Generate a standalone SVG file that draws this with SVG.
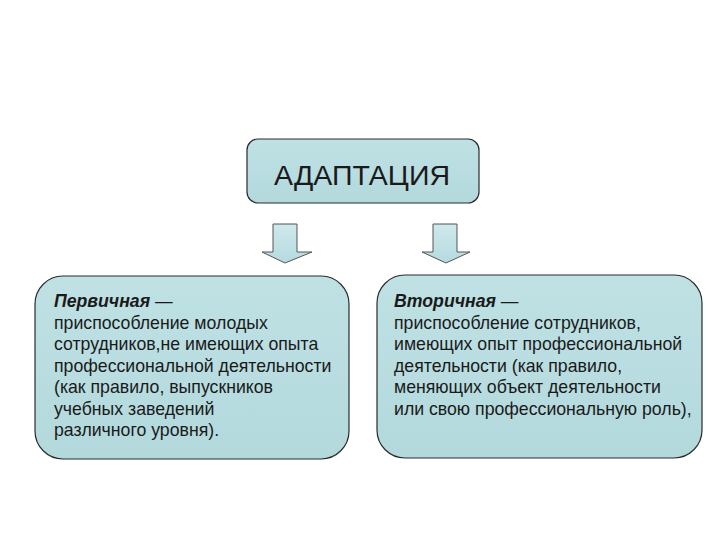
<svg xmlns="http://www.w3.org/2000/svg" width="720" height="540" viewBox="0 0 720 540">
<defs>
<linearGradient id="g" x1="0" y1="0" x2="0" y2="1">
<stop offset="0" stop-color="#bfe1e4"/>
<stop offset="1" stop-color="#b3d9dd"/>
</linearGradient>
<linearGradient id="ga" x1="0" y1="0" x2="0" y2="1">
<stop offset="0" stop-color="#cfe9ec"/>
<stop offset="1" stop-color="#b5dade"/>
</linearGradient>
<style>
.box{fill:url(#g);stroke:#2a2a2a;stroke-width:1.2}
.arr{fill:url(#ga);stroke:#555;stroke-width:1}
.t{font-family:"Liberation Sans",Arial,sans-serif;fill:#1a1a1a}
.b{font-size:17.7px}
.h{font-weight:bold;font-style:italic}
</style>
</defs>
<rect width="720" height="540" fill="#fff"/>
<g id="root">
<rect class="box" x="247" y="139" width="232" height="64" rx="11"/>
<text class="t" x="362" y="185" font-size="28.5" text-anchor="middle">АДАПТАЦИЯ</text>
</g>
<g id="connectors">
<path class="arr" d="M273 224 H297 V252 H312 L285 263 L262 252 H273 Z"/>
<path class="arr" d="M433 224 H457 V252 H470 L446 263 L422 252 H433 Z"/>
</g>
<g id="primary">
<rect class="box" x="35" y="276" width="314" height="183" rx="28"/>
<text class="t b" x="54">
<tspan x="54" y="307"><tspan class="h">Первичная</tspan> —</tspan>
<tspan x="54" y="328.5">приспособление молодых</tspan>
<tspan x="54" y="350">сотрудников,не имеющих опыта</tspan>
<tspan x="54" y="371.5">профессиональной деятельности</tspan>
<tspan x="54" y="393">(как правило, выпускников</tspan>
<tspan x="54" y="414.5">учебных заведений</tspan>
<tspan x="54" y="436">различного уровня).</tspan>
</text>
</g>
<g id="secondary">
<rect class="box" x="377" y="275" width="325" height="183" rx="28"/>
<text class="t b" x="394">
<tspan x="394" y="307"><tspan class="h">Вторичная</tspan> —</tspan>
<tspan x="394" y="328.5">приспособление сотрудников,</tspan>
<tspan x="394" y="350">имеющих опыт профессиональной</tspan>
<tspan x="394" y="371.5">деятельности (как правило,</tspan>
<tspan x="394" y="393">меняющих объект деятельности</tspan>
<tspan x="394" y="414.5">или свою профессиональную роль),</tspan>
</text>
</g>
</svg>
